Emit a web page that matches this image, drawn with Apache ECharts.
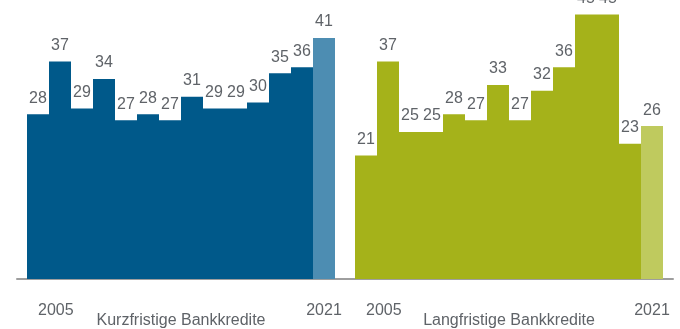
<!DOCTYPE html>
<html>
<head>
<meta charset="utf-8">
<script src="https://cdn.jsdelivr.net/npm/echarts@6/dist/echarts.min.js"></script>
<style>
  html, body { margin: 0; padding: 0; background: #ffffff; }
  #chart { width: 680px; height: 329px; }
</style>
</head>
<body>
<div id="chart"></div>
<script>
// Bank loans, share in percent, 2005 ... 2021
const years = ['2005', '', '', '', '', '', '', '', '', '', '', '', '', '2021'];
const shortTerm = [28, 37, 29, 34, 27, 28, 27, 31, 29, 29, 30, 35, 36, 41];
const longTerm = [21, 37, 25, 25, 28, 27, 33, 27, 32, 36, 45, 45, 23, 26];
const groupNames = ['Kurzfristige Bankkredite', 'Langfristige Bankkredite'];

const textColor = '#5f6368';
const font = 'Arial, "Liberation Sans", sans-serif';

function barData(values, base, last) {
  return values.map((v, i) => ({
    value: v,
    itemStyle: { color: i === values.length - 1 ? last : base }
  }));
}

// Baseline axis spanning the whole group, carrying the group name
function xAxis(gridIndex, name) {
  return {
    type: 'value',
    gridIndex,
    min: -0.5 - 10 / 22,
    max: 13.5 + 10 / 22,
    show: true,
    splitLine: { show: false },
    axisTick: { show: false },
    axisLabel: { show: false },
    axisLine: { show: true, onZero: false, lineStyle: { color: '#9e9e9e', width: 2 } },
    name,
    nameLocation: 'middle',
    nameGap: 34,
    nameTextStyle: { color: textColor, fontSize: 16, fontFamily: font }
  };
}

// Year axis under the bars
function labelAxis(gridIndex) {
  return {
    type: 'category',
    gridIndex,
    data: years,
    position: 'bottom',
    axisLine: { show: false },
    axisTick: { show: false },
    splitLine: { show: false },
    axisLabel: {
      interval: 0,
      margin: 24,
      color: textColor,
      fontSize: 16,
      fontFamily: font,
      alignMinLabel: 'left'
    }
  };
}

function yAxis(gridIndex) {
  return {
    type: 'value',
    gridIndex,
    min: 0,
    max: 279 / 5.88,
    show: false
  };
}

const labelStyle = {
  show: true,
  position: 'top',
  distance: 8,
  color: textColor,
  fontSize: 16,
  fontFamily: font
};

const gridBase = { top: 0, bottom: 50, containLabel: false, outerBoundsMode: 'none' };

const option = {
  animation: false,
  grid: [
    Object.assign({ left: 17, width: 328 }, gridBase),
    Object.assign({ left: 345, width: 328 }, gridBase),
    Object.assign({ left: 27, width: 308 }, gridBase),
    Object.assign({ left: 355, width: 308 }, gridBase)
  ],
  xAxis: [
    xAxis(0, groupNames[0]),
    xAxis(1, groupNames[1]),
    labelAxis(2),
    labelAxis(3)
  ],
  yAxis: [yAxis(0), yAxis(1), yAxis(2), yAxis(3)],
  series: [
    {
      type: 'bar',
      xAxisIndex: 2,
      yAxisIndex: 2,
      barCategoryGap: '0%',
      data: barData(shortTerm, '#00598a', '#4d8db2'),
      label: labelStyle,
      z: 1
    },
    {
      type: 'bar',
      xAxisIndex: 3,
      yAxisIndex: 3,
      barCategoryGap: '0%',
      data: barData(longTerm, '#a5b21a', '#bfca5e'),
      label: labelStyle,
      z: 1
    }
  ]
};

const chart = echarts.init(document.getElementById('chart'), null, { renderer: 'canvas' });
chart.setOption(option);
</script>
</body>
</html>
